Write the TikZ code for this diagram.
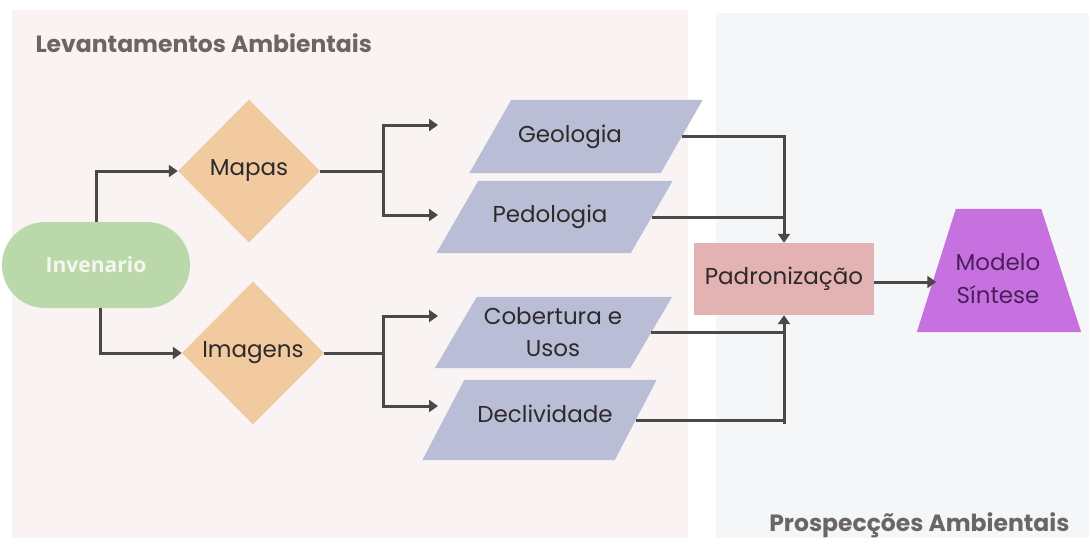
\documentclass[tikz,border=0pt]{standalone}
\usepackage{fontspec}
\setmainfont{Poppins}
\newfontfamily\invfont{Open Sans}
\usetikzlibrary{arrows.meta,shapes.geometric,calc}
\definecolor{bgleft}{HTML}{F9F3F3}
\definecolor{bgright}{HTML}{F5F6F8}
\definecolor{greenfill}{HTML}{BBD8AB}
\definecolor{greentext}{HTML}{F3F7EF}
\definecolor{peach}{HTML}{F1CA9F}
\definecolor{lavender}{HTML}{B9BED6}
\definecolor{rose}{HTML}{E3B2B2}
\definecolor{violet}{HTML}{C771E0}
\definecolor{violettext}{HTML}{4A1F5A}
\definecolor{linecol}{HTML}{4D4848}
\definecolor{titlecol}{HTML}{6B6566}
\definecolor{txtcol}{HTML}{2E2A2A}
\tikzset{
  conn/.style={draw=linecol, line width=3pt},
  arr/.style={conn, -{Triangle[length=9pt,width=12pt]}},
  lbl/.style={font=\fontsize{23}{27}\selectfont, text=txtcol, align=center},
  title/.style={font=\fontsize{23.5}{27}\selectfont\bfseries, text=titlecol},
  decision/.style={diamond, aspect=1, fill=peach, minimum width=142pt, minimum height=143pt, inner sep=0pt, lbl},
  databox/.style={rectangle, minimum height=#1, inner sep=0pt, lbl},
}
\begin{document}
\begin{tikzpicture}[x=1pt,y=-1pt]
\useasboundingbox (0,0) rectangle (1089,538);
\fill[white] (0,0) rectangle (1089,538);
% panels
\fill[bgleft] (12,10) rectangle (688,538);
\fill[bgright] (716,13) rectangle (1089,538);
\node[title, anchor=base west] (t1) at (32,52) {Levantamentos Ambientais};
\node[title, anchor=base east] (t2) at (1073,531) {Prospecções Ambientais};

% start
\node[rectangle, rounded corners=43pt, fill=greenfill, minimum width=188pt, minimum height=86pt,
      font=\invfont\bfseries\fontsize{21}{24}\selectfont, text=greentext] (inv) at (96,265) {Invenario};

% decisions
\node[decision] (map) at (249,171) {Mapas};
\node[decision] (img) at (253,353) {Imagens};

% data parallelograms (slant = 21 on each side)
\node[databox=73pt, minimum width=191pt] (geo) at (586,136.5) {};
\node[databox=72pt, minimum width=194pt] (ped) at (554.5,217) {};
\node[databox=71pt, minimum width=195pt] (cob) at (553.5,332.5) {};
\node[databox=80pt, minimum width=192pt] (dec) at (539.5,420) {};
\foreach \n in {geo,ped,cob,dec}{
  \fill[lavender] ([xshift=21pt]\n.north west) -- ([xshift=21pt]\n.north east)
     -- ([xshift=-21pt]\n.south east) -- ([xshift=-21pt]\n.south west) -- cycle;
}
\node[lbl] (geot) at (570,136.5) {Geologia};
\node[lbl] (pedt) at (550,217) {Pedologia};
\node[lbl, font=\fontsize{23}{32}\selectfont] (cobt) at (553,332) {Cobertura e\\Usos};
\node[lbl] (dect) at (545,414) {Declividade};

% standardisation
\node[rectangle, fill=rose, minimum width=180pt, minimum height=72pt, inner sep=0pt, lbl] (pad) at (784,279) {Padronização};

% synthesis model
\node[rectangle, minimum width=124.5pt, minimum height=123pt, inner sep=0pt] (mod) at (998.75,270.5) {};
\fill[violet] ([xshift=19.5pt]mod.north west) -- ([xshift=-20pt]mod.north east)
   -- ([xshift=20pt]mod.south east) -- ([xshift=-19.5pt]mod.south west) -- cycle;
\node[lbl, text=violettext, font=\fontsize{23}{33}\selectfont] (modt) at (998,279) {Modelo\\Síntese};

% branch points and free arrow ends
\coordinate (mapbr) at (383,171);
\coordinate (imgbr) at (383,353);
\coordinate (geoin) at (438,125);
\coordinate (pedin) at (438,215);
\coordinate (cobin) at (438,316);
\coordinate (decin) at (438,406);

% connectors
\draw[arr] (inv.north) |- (map.west);
\draw[arr] ([xshift=4pt]inv.south) |- (img.west);
\draw[conn] (map.east) -- (mapbr);
\draw[arr] (mapbr) |- (geoin);
\draw[arr] (mapbr) |- (pedin);
\draw[conn] (img.east) -- (imgbr);
\draw[arr] (imgbr) |- (cobin);
\draw[arr] (imgbr) |- (decin);

\draw[arr] (geo.east) -| (pad.north);
\draw[conn] (ped.east) -- (ped.east -| pad.north);
\draw[conn] (cob.east) -- (cob.east -| pad.south);
\draw[conn] (pad.south |- dec.east) -- ++(0,4);
\draw[arr] (dec.east) -| (pad.south);
\draw[arr] ([yshift=-3pt]pad.east) -- ([yshift=-3pt]pad.east -| mod.west);
\end{tikzpicture}
\end{document}
